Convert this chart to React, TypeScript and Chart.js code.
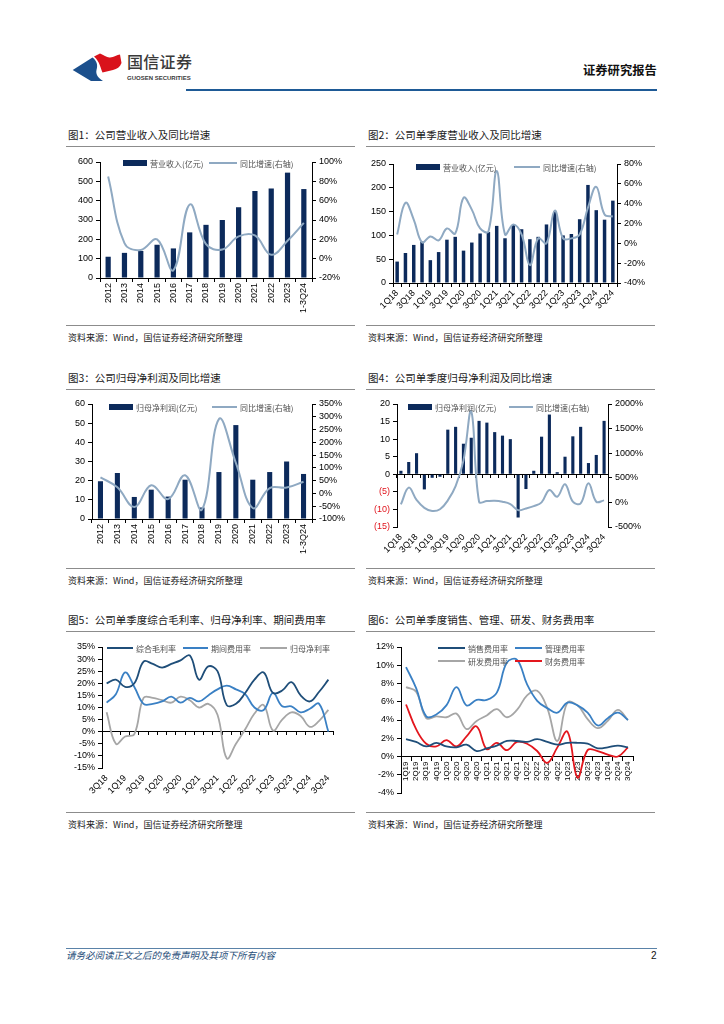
import React, { useEffect, useRef } from 'react';
import { Chart, registerables } from 'chart.js';
Chart.register(...registerables);

// ---------- DATA ----------
const YEARS = ['2012', '2013', '2014', '2015', '2016', '2017', '2018', '2019', '2020', '2021', '2022', '2023', '1-3Q24'];
const REV_ANNUAL = [110, 130, 140, 172, 153, 236, 275, 300, 366, 450, 463, 545, 460];
const REV_ANNUAL_YOY = [85, 16, 9, 20, -12, 56, 15, 9.5, 23, 24, 4, 18.5, 37];

const Q_18_24 = ['1Q18', '2Q18', '3Q18', '4Q18', '1Q19', '2Q19', '3Q19', '4Q19', '1Q20', '2Q20', '3Q20', '4Q20', '1Q21', '2Q21', '3Q21', '4Q21', '1Q22', '2Q22', '3Q22', '4Q22', '1Q23', '2Q23', '3Q23', '4Q23', '1Q24', '2Q24', '3Q24'];
const REV_Q = [45, 63, 80, 87, 48, 65, 91, 97, 68, 85, 104, 107, 120, 94, 122, 113, 92, 97, 123, 150, 100, 103, 134, 206, 153, 133, 173];
const REV_Q_YOY = [9, 41, 24, 1, 7, 3, 15, 10, 46, 34, 15, 12, 73, 9, 19, 9, -22, 5, 0, 33, 5, 5, 9, 36, 57, 29, 27];

const NP_ANNUAL = [19.7, 24, 11.5, 15.3, 11.7, 20.5, 6, 24.5, 49, 20.5, 24.5, 30, 23.5];
const NP_ANNUAL_YOY = [63, 24, -53, 32, -22, 71, -63, 291, 120, -57, 21, 23, 46];

const NP_Q = [1, 3.5, 6, -4.3, -1, -0.7, 12.7, 13.5, 8.7, 10.4, 15.2, 14.7, 12, 11, 10, -12.3, -4.2, 1, 10.7, 17, 0.6, 5, 10.8, 13.5, 3.2, 5.5, 15.2];
const NP_Q_YOY = [-40, 300, 50, -110, -175, -140, 40, 330, 850, 1850, 14, 27, 34, 14, -34, -157, -123, -75, 0, 253, 116, 370, 14, -20, 390, 14, 41];

const Q_3Q18_24 = ['3Q18', '4Q18', '1Q19', '2Q19', '3Q19', '4Q19', '1Q20', '2Q20', '3Q20', '4Q20', '1Q21', '2Q21', '3Q21', '4Q21', '1Q22', '2Q22', '3Q22', '4Q22', '1Q23', '2Q23', '3Q23', '4Q23', '1Q24', '2Q24', '3Q24'];
const GROSS_MARGIN = [20, 21.5, 18.5, 20, 29, 28, 26.5, 28, 29.5, 31.5, 21.5, 27, 25, 11, 11.5, 16, 21.5, 24.5, 16, 17, 20.5, 15, 12.5, 16.5, 21.5];
const EXPENSE_RATE = [12, 15.5, 24.5, 18.5, 11.5, 11.5, 12.5, 14.5, 12, 14, 12.5, 15, 17.5, 19, 17.5, 15.5, 10, 9, 16, 10.5, 10.5, 8, 9.5, 11.5, 0];
const NET_MARGIN = [8, -5, -2, -1, 14, 14, 13, 12, 14.5, 13, 10, 11.5, 7, -11, -5, 1, 7.5, 11, 0.5, 5, 8, 6.5, 2, 4.5, 9];

const Q_19_24 = ['1Q19', '2Q19', '3Q19', '4Q19', '1Q20', '2Q20', '3Q20', '4Q20', '1Q21', '2Q21', '3Q21', '4Q21', '1Q22', '2Q22', '3Q22', '4Q22', '1Q23', '2Q23', '3Q23', '4Q23', '1Q24', '2Q24', '3Q24'];
const SELLING_RATE = [1.9, 1.6, 1.1, 1.5, 1.1, 1.0, 1.3, 0.6, 0.9, 1.2, 1.7, 1.7, 1.6, 1.9, 1.6, 1.3, 1.5, 1.5, 1.4, 0.9, 1.0, 1.2, 1.0];
const ADMIN_RATE = [9.8, 7.5, 4.4, 4.6, 5.6, 7.6, 5.6, 6.2, 6.2, 7.0, 10.3, 10.6, 7.9, 6.1, 5.3, 4.8, 5.9, 5.6, 4.8, 3.4, 4.2, 4.8, 4.0];
const RD_RATE = [7.6, 7.1, 4.2, 4.4, 4.3, 4.7, 3.0, 3.9, 4.5, 5.2, 4.3, 5.1, 6.7, 7.2, 5.3, 1.7, 5.9, 5.6, 4.1, 3.1, 3.9, 5.1, 4.0];
const FIN_RATE = [5.7, 3.0, 1.4, 1.1, 1.8, 1.1, 2.2, 3.3, 0.8, 1.5, 0.7, 1.6, 1.4, 0.6, -0.7, 1.0, 2.7, -2.3, 0.7, 0.6, 0.2, 0.0, 1.0];

// ---------- STYLE ----------
const NAVY = '#0c2a5b';
const LIGHT = '#8fa9c2';
const DARK_BLUE = '#1f4e79';
const MID_BLUE = '#3a80c4';
const GRAY = '#a6a6a6';
const RED = '#e3161d';
const TICK_FONT = { family: '"Liberation Sans", Arial, sans-serif', size: 9 };
const CJK = '"Noto Sans CJK SC", "Noto Sans", sans-serif';

Chart.defaults.font.family = '"Liberation Sans", Arial, sans-serif';

const inlineLegend = {
  id: 'inlineLegend',
  afterDraw(chart: any, _args: any, opts: any) {
    const items = (opts && opts.items) || [];
    const ctx = chart.ctx;
    ctx.save();
    ctx.font = `8px ${CJK}`;
    ctx.textBaseline = 'middle';
    ctx.textAlign = 'left';
    for (const it of items) {
      const ds = chart.data.datasets[it.ds];
      if (it.kind === 'bar') {
        ctx.fillStyle = ds.backgroundColor;
        ctx.fillRect(it.x, it.y - 3, it.w, 6);
      } else {
        ctx.strokeStyle = ds.borderColor;
        ctx.lineWidth = 2;
        ctx.beginPath();
        ctx.moveTo(it.x, it.y);
        ctx.lineTo(it.x + it.w, it.y);
        ctx.stroke();
      }
      ctx.fillStyle = '#505050';
      ctx.fillText(ds.label, it.x + it.w + 3, it.y + 0.5);
    }
    ctx.restore();
  },
};

function yAxis(pos: string, min: number, max: number, step: number, width: number, fmt: (v: number) => string, color?: any) {
  return {
    position: pos,
    min,
    max,
    ticks: { stepSize: step, autoSkip: false, callback: (v: any) => fmt(Number(v)), font: TICK_FONT, color: color || '#000', padding: 3 },
    grid: { drawOnChartArea: false, drawTicks: true, tickLength: 4, color: '#000' },
    border: { display: true, color: '#000', width: 1 },
    afterFit: (s: any) => { s.width = width; },
  };
}

function xCat(height: number, rotation: number, every: number, opts: any = {}) {
  return {
    type: 'category',
    offset: true,
    ticks: {
      font: opts.font || TICK_FONT,
      color: '#000',
      autoSkip: false,
      minRotation: rotation,
      maxRotation: rotation,
      padding: 1,
      callback: function (this: any, v: any, i: number) { return i % every === 0 ? this.getLabelForValue(v) : ''; },
    },
    grid: { display: opts.noGrid ? false : true, drawOnChartArea: false, tickLength: 4, color: '#000', offset: true },
    border: { display: !opts.noBorder, color: '#000' },
    afterFit: (s: any) => { if (height >= 0) s.height = height; },
    ...(opts.position ? { position: opts.position } : {}),
  };
}

function zeroAxis() {
  return {
    type: 'category',
    offset: true,
    position: { y: 0 },
    ticks: { display: false },
    grid: { drawOnChartArea: false, tickLength: 3, color: '#000', offset: true },
    border: { display: true, color: '#000' },
  };
}

function base(padding: any, scales: any, items: any[]) {
  return {
    responsive: true,
    maintainAspectRatio: false,
    animation: false,
    events: [],
    layout: { padding },
    scales,
    plugins: { legend: { display: false }, tooltip: { enabled: false }, inlineLegend: { items } },
  };
}

const pct = (v: number) => `${v}%`;
const num = (v: number) => `${v}`;
const paren = (v: number) => (v < 0 ? `(${-v})` : `${v}`);

function lineDs(label: string, data: number[], color: string, yAxisID = 'y', width = 2) {
  return { type: 'line', label, data, yAxisID, borderColor: color, backgroundColor: color, borderWidth: width, pointRadius: 0, tension: 0.4, order: 0, fill: false };
}
function barDs(label: string, data: number[], pctW: number) {
  return { type: 'bar', label, data, yAxisID: 'y', backgroundColor: NAVY, barPercentage: pctW, categoryPercentage: 1, order: 1 };
}

const make1 = () => ({
  type: 'bar',
  data: { labels: YEARS, datasets: [barDs('营业收入(亿元)', REV_ANNUAL, 0.32), lineDs('同比增速(右轴)', REV_ANNUAL_YOY, LIGHT, 'y1')] },
  options: base({ top: 12, left: 0, right: 0, bottom: 0 }, {
    x: xCat(40, 90, 1),
    y: yAxis('left', 0, 600, 100, 34, num),
    y1: yAxis('right', -20, 100, 20, 44, pct),
  }, [{ ds: 0, kind: 'bar', x: 57, y: 13, w: 24 }, { ds: 1, kind: 'line', x: 143, y: 13, w: 28 }]),
  plugins: [inlineLegend],
});

const make2 = () => ({
  type: 'bar',
  data: { labels: Q_18_24, datasets: [barDs('营业收入(亿元)', REV_Q, 0.42), lineDs('同比增速(右轴)', REV_Q_YOY, LIGHT, 'y1')] },
  options: base({ top: 14, left: 0, right: 0, bottom: 0 }, {
    x: xCat(35, 45, 2),
    y: yAxis('left', 0, 250, 50, 27, num),
    y1: yAxis('right', -40, 80, 20, 39, pct),
  }, [{ ds: 0, kind: 'bar', x: 50, y: 17, w: 24 }, { ds: 1, kind: 'line', x: 148, y: 17, w: 26 }]),
  plugins: [inlineLegend],
});

const make3 = () => ({
  type: 'bar',
  data: { labels: YEARS, datasets: [barDs('归母净利润(亿元)', NP_ANNUAL, 0.3), lineDs('同比增速(右轴)', NP_ANNUAL_YOY, LIGHT, 'y1')] },
  options: base({ top: 11, left: 0, right: 0, bottom: 0 }, {
    x: xCat(39, 90, 1),
    y: yAxis('left', 0, 60, 10, 26, num),
    y1: yAxis('right', -100, 350, 50, 44, pct),
  }, [{ ds: 0, kind: 'bar', x: 43, y: 14, w: 24 }, { ds: 1, kind: 'line', x: 146, y: 14, w: 25 }]),
  plugins: [inlineLegend],
});

const make4 = () => ({
  type: 'bar',
  data: { labels: Q_18_24, datasets: [barDs('归母净利润(亿元)', NP_Q, 0.4), lineDs('同比增速(右轴)', NP_Q_YOY, LIGHT, 'y1')] },
  options: base({ top: 11, left: 0, right: 0, bottom: 0 }, {
    x: xCat(31, 45, 2, { noBorder: true, noGrid: true }),
    x2: zeroAxis(),
    y: yAxis('left', -15, 20, 5, 31, paren, (c: any) => (c.tick && c.tick.value < 0 ? '#e0141c' : '#000')),
    y1: yAxis('right', -500, 2000, 500, 48, pct),
  }, [{ ds: 0, kind: 'bar', x: 42, y: 14, w: 24 }, { ds: 1, kind: 'line', x: 143, y: 14, w: 24 }]),
  plugins: [inlineLegend],
});

const make5 = () => ({
  type: 'line',
  data: {
    labels: Q_3Q18_24,
    datasets: [
      lineDs('综合毛利率', GROSS_MARGIN, DARK_BLUE, 'y', 1.8),
      lineDs('期间费用率', EXPENSE_RATE, MID_BLUE, 'y', 1.8),
      lineDs('归母净利率', NET_MARGIN, GRAY, 'y', 1.8),
    ],
  },
  options: base({ top: 11, left: 0, right: 23, bottom: 0 }, {
    x: xCat(38, 45, 2, { noBorder: true, noGrid: true }),
    x2: zeroAxis(),
    y: yAxis('left', -15, 35, 5, 36, pct),
  }, [{ ds: 0, kind: 'line', x: 41, y: 12, w: 26 }, { ds: 1, kind: 'line', x: 117, y: 12, w: 25 }, { ds: 2, kind: 'line', x: 194, y: 12, w: 27 }]),
  plugins: [inlineLegend],
});

const make6 = () => ({
  type: 'line',
  data: {
    labels: Q_19_24,
    datasets: [
      lineDs('销售费用率', SELLING_RATE, DARK_BLUE, 'y', 1.8),
      lineDs('管理费用率', ADMIN_RATE, MID_BLUE, 'y', 1.8),
      lineDs('研发费用率', RD_RATE, GRAY, 'y', 1.8),
      lineDs('财务费用率', FIN_RATE, RED, 'y', 1.8),
    ],
  },
  options: base({ top: 11, left: 0, right: 23, bottom: 13 }, {
    x: xCat(-1, 90, 1, { position: { y: 0 }, font: { ...TICK_FONT, size: 8 } }),
    y: yAxis('left', -4, 12, 2, 35, pct),
  }, [
    { ds: 0, kind: 'line', x: 72, y: 12, w: 27 }, { ds: 1, kind: 'line', x: 149, y: 12, w: 27 },
    { ds: 2, kind: 'line', x: 72, y: 25, w: 27 }, { ds: 3, kind: 'line', x: 149, y: 25, w: 27 },
  ]),
  plugins: [inlineLegend],
});

function ChartBox({ left, top, width, height, make }: any) {
  const ref = useRef<HTMLCanvasElement>(null);
  useEffect(() => {
    const chart = new Chart(ref.current as HTMLCanvasElement, make() as any);
    return () => chart.destroy();
  }, []);
  return (
    <div style={{ position: 'absolute', left, top, width, height }}>
      <canvas ref={ref} />
    </div>
  );
}

function T({ x, y, size, children, color = '#1a1a1a', weight = 400, italic = false, family = CJK, spacing = 0 }: any) {
  return (
    <div style={{ position: 'absolute', left: x, top: y, fontSize: size, lineHeight: 1, whiteSpace: 'nowrap', color, fontWeight: weight, fontStyle: italic ? 'italic' : 'normal', fontFamily: family, letterSpacing: spacing }}>
      {children}
    </div>
  );
}

function HLine({ x, y, w, color = '#8c8c8c', h = 1 }: any) {
  return <div style={{ position: 'absolute', left: x, top: y, width: w, height: h, background: color }} />;
}

const SOURCE = '资料来源：Wind，国信证券经济研究所整理';

function Panel({ x, titleY, title, make, chartTop, chartH, sourceLineY }: any) {
  return (
    <>
      <T x={x + 2} y={titleY - 5.5} size={10.5}>{title}</T>
      <HLine x={x} y={titleY + 11} w={289} />
      <ChartBox left={x} top={chartTop} width={290} height={chartH} make={make} />
      <HLine x={x} y={sourceLineY} w={289} />
      <T x={x + 2} y={sourceLineY + 8} size={9} color="#222">{SOURCE}</T>
    </>
  );
}

export default function App() {
  return (
    <div style={{ position: 'absolute', left: 0, top: 0, width: 724, height: 1024, background: '#fff', overflow: 'hidden', fontFamily: CJK }}>
      <svg style={{ position: 'absolute', left: 0, top: 0 }} width={724} height={100} viewBox="0 0 724 100">
        <path d="M72.7,70 L92.5,57.5 C97,61 98,65 96.5,70 C95.5,74 98,78 103,81 L91,81 Z" fill="#1b4f8c" />
        <path d="M94,56.5 L100,53.5 C104,55 107,58 110,57.5 C114,57 117,55 120,54.5 L121.5,63 C120,67 117,69 113,70 L102.5,72.5 C100.5,68 100,62 94,56.5 Z" fill="#d9121b" />
      </svg>
      <T x={127} y={53} size={16} color="#3a3a3a" weight={500} spacing={0.3}>国信证券</T>
      <T x={127} y={74.5} size={6} color="#3a3a3a" weight={700} family='"Liberation Sans", Arial, sans-serif'>GUOSEN SECURITIES</T>
      <T x={583} y={64} size={12.3} color="#111" weight={700}>证券研究报告</T>
      <HLine x={186} y={88.5} w={471} h={2} color="#1e5a96" />

      <Panel x={66} titleY={135} title="图1：公司营业收入及同比增速" make={make1} chartTop={150} chartH={168} sourceLineY={325} />
      <Panel x={366} titleY={135} title="图2：公司单季度营业收入及同比增速" make={make2} chartTop={150} chartH={168} sourceLineY={325} />
      <Panel x={66} titleY={378} title="图3：公司归母净利润及同比增速" make={make3} chartTop={393} chartH={165} sourceLineY={568} />
      <Panel x={366} titleY={378} title="图4：公司单季度归母净利润及同比增速" make={make4} chartTop={393} chartH={165} sourceLineY={568} />
      <Panel x={66} titleY={620} title="图5：公司单季度综合毛利率、归母净利率、期间费用率" make={make5} chartTop={636} chartH={170} sourceLineY={812} />
      <Panel x={366} titleY={620} title="图6：公司单季度销售、管理、研发、财务费用率" make={make6} chartTop={636} chartH={170} sourceLineY={812} />

      <HLine x={66} y={947.5} w={591} color="#5a82a8" />
      <T x={66} y={951} size={9.5} color="#1f4e79" italic>请务必阅读正文之后的免责声明及其项下所有内容</T>
      <T x={651} y={951} size={10} color="#111" family='"Liberation Sans", Arial, sans-serif'>2</T>
    </div>
  );
}
